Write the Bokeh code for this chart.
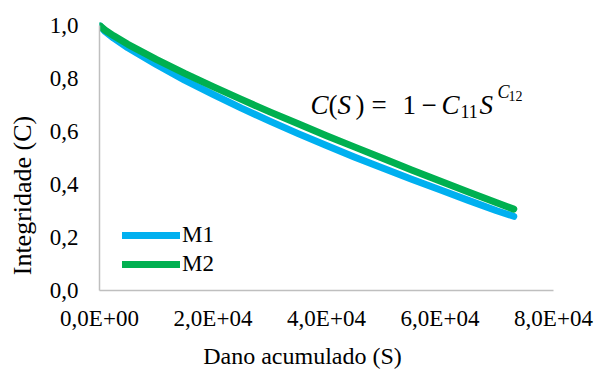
import math
from bokeh.plotting import figure
from bokeh.models import Range1d, FixedTicker, Label, Legend, LegendItem, ColumnDataSource
from bokeh.embed import file_html
from bokeh.resources import INLINE

# ---- data ----
S = [0, 1000, 2500, 5000, 10000, 15000, 20000, 25000, 30000, 35000,
     40000, 45000, 50000, 55000, 60000, 65000, 70000, 73000]
C_M1 = [1.0, 0.977, 0.952, 0.916, 0.853, 0.794, 0.740, 0.688, 0.639, 0.592,
        0.547, 0.503, 0.461, 0.420, 0.380, 0.340, 0.301, 0.280]
C_M2 = [1.0, 0.982, 0.961, 0.929, 0.872, 0.819, 0.769, 0.721, 0.674, 0.629,
        0.584, 0.541, 0.498, 0.455, 0.413, 0.372, 0.331, 0.307]
series_names = ["M1", "M2"]
x_ticks = [0, 20000, 40000, 60000, 80000]
x_tick_labels = ["0,0E+00", "2,0E+04", "4,0E+04", "6,0E+04", "8,0E+04"]
y_ticks = [0.0, 0.2, 0.4, 0.6, 0.8, 1.0]
y_tick_labels = ["0,0", "0,2", "0,4", "0,6", "0,8", "1,0"]
x_title = "Dano acumulado (S)"
y_title = "Integridade (C)"

BLUE = "#00B0F0"
GREEN = "#00B050"
AXIS_GREY = "#BFBFBF"
NB = "\u00a0"
FONT = "Times New Roman"

W, H = 598, 371
FRAME_W, FRAME_H = 454, 267
XMAX = 80000.0
EXTRA_TOP = 3
px_x = XMAX / FRAME_W
px_y = 1.0 / FRAME_H

p = figure(width=W, height=H, output_backend="svg", toolbar_location=None,
           x_range=Range1d(0, XMAX), y_range=Range1d(0, 1.0 + EXTRA_TOP * px_y),
           min_border_left=99, min_border_right=45, min_border_top=22, min_border_bottom=79)
p.outline_line_color = None
p.grid.visible = False
p.background_fill_color = "white"
p.border_fill_color = "white"

src = ColumnDataSource(dict(S=S, m1=C_M1, m2=C_M2))
r1 = p.line("S", "m1", source=src, line_color=BLUE, line_width=7,
            line_cap="round", line_join="round")
r2 = p.line("S", "m2", source=src, line_color=GREEN, line_width=7,
            line_cap="round", line_join="round")

for ax in (p.xaxis[0], p.yaxis[0]):
    ax.axis_line_color = AXIS_GREY
    ax.axis_line_width = 1.5
    ax.major_tick_line_color = None
    ax.minor_tick_line_color = None
    ax.major_tick_out = 0
    ax.major_tick_in = 0
    ax.minor_tick_out = 0
    ax.major_label_text_font_size = "23px"
    ax.major_label_text_color = "black"
    ax.major_label_text_font = FONT
    ax.axis_label_text_font_style = "normal"
    ax.axis_label_text_color = "black"
    ax.axis_label_text_font = FONT

p.xaxis[0].ticker = FixedTicker(ticks=x_ticks)
p.xaxis[0].major_label_overrides = {t: l for t, l in zip(x_ticks, x_tick_labels)}
p.xaxis[0].major_label_standoff = 15
p.xaxis[0].axis_label = x_title + NB * 8
p.xaxis[0].axis_label_text_font_size = "24px"
p.xaxis[0].axis_label_standoff = 9

p.yaxis[0].ticker = FixedTicker(ticks=y_ticks)
p.yaxis[0].major_label_overrides = {t: l for t, l in zip(y_ticks, y_tick_labels)}
p.yaxis[0].major_label_standoff = 21
p.yaxis[0].bounds = (0, 1.0)
p.yaxis[0].axis_label = y_title + NB * 12
p.yaxis[0].axis_label_text_font_size = "26px"
p.yaxis[0].axis_label_standoff = 10

EQ_FONT = FONT
pieces = [
    ("C", 211, "27px", "italic", 80),
    ("(", 229, "27px", "normal", 80),
    ("S", 238, "27px", "italic", 80),
    (")", 256, "27px", "normal", 80),
    ("=", 272, "27px", "normal", 80),
    ("1", 303, "27px", "normal", 80),
    ("\u2212", 322, "27px", "normal", 80),
    ("C", 342, "27px", "italic", 80),
    ("11", 361, "18px", "normal", 87),
    ("S", 380, "27px", "italic", 80),
    ("C", 398, "18px", "italic", 67),
    ("12", 409, "14px", "normal", 71),
]
for txt, dx, fs, style, dy in pieces:
    p.add_layout(Label(x=dx * px_x, y=1.0 - dy * px_y, text=txt,
                       text_align="left", text_baseline="alphabetic",
                       text_font=EQ_FONT, text_font_size=fs,
                       text_font_style=style, text_color="black"))

legend = Legend(items=[LegendItem(label=series_names[0], renderers=[r1]),
                       LegendItem(label=series_names[1], renderers=[r2])],
                location=(23, 13), orientation="vertical",
                glyph_width=58, glyph_height=26, label_height=26,
                label_standoff=2, spacing=3, padding=0, margin=0,
                border_line_color=None, background_fill_alpha=0,
                label_text_font=FONT, label_text_font_size="23px",
                label_text_color="black")
p.add_layout(legend, "center")

open("out.html", "w").write(file_html(p, INLINE))
